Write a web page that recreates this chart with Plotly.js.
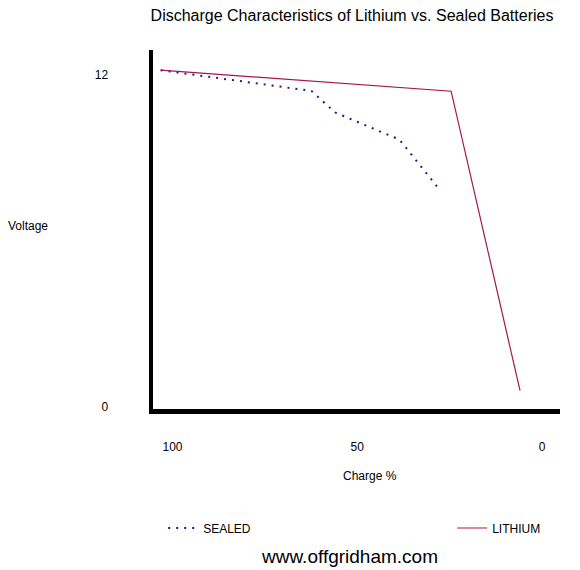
<!DOCTYPE html>
<html>
<head>
<meta charset="utf-8">
<script src="https://cdn.plot.ly/plotly-3.0.1.min.js"></script>
<style>html,body{margin:0;padding:0;background:#fff;}#chart{width:580px;height:570px;}</style>
</head>
<body>
<div id="chart"></div>
<script>
// Charge % (x) and voltage (y)
const sealedCharge = [103.2, 62.4, 56.0, 38.6, 27.8];
const sealedVoltage = [12.17, 11.42, 10.64, 9.66, 7.86];
const lithiumCharge = [103.2, 24.6, 5.95];
const lithiumVoltage = [12.17, 11.41, 0.58];
const xTickVals = [100, 50, 0];
const xTickText = ['100', '50', '0'];
const yTickVals = [0, 12];
const yTickText = ['0', '12'];

const FONT = 'Liberation Sans, Arial, Helvetica, sans-serif';

const traces = [
  {
    x: sealedCharge, y: sealedVoltage, name: 'SEALED', type: 'scatter', mode: 'lines',
    line: {color: '#1c1c8a', width: 2, dash: '2px,6px'}, legend: 'legend'
  },
  {
    x: lithiumCharge, y: lithiumVoltage, name: 'LITHIUM', type: 'scatter', mode: 'lines',
    line: {color: '#a3174f', width: 1.2}, legend: 'legend2'
  }
];

const layout = {
  width: 580, height: 570,
  margin: {l: 153, r: 20, t: 50, b: 161},
  paper_bgcolor: '#fff', plot_bgcolor: '#fff',
  font: {family: FONT, size: 12, color: '#000'},
  title: {text: 'Discharge Characteristics of Lithium vs. Sealed Batteries',
          font: {family: FONT, size: 16, color: '#000'},
          xref: 'container', x: 352 / 580, xanchor: 'center',
          yref: 'container', y: 1 - 15 / 570, yanchor: 'middle'},
  xaxis: {
    range: [105.27, -4.86], showgrid: false, zeroline: false,
    showline: true, linecolor: '#000', linewidth: 4.5,
    tickmode: 'array', tickvals: xTickVals, ticktext: xTickText,
    ticks: '', ticklabelstandoff: 23, tickfont: {size: 12}
  },
  yaxis: {
    range: [-0.083, 12.9], showgrid: false, zeroline: false,
    showline: true, linecolor: '#000', linewidth: 4.5,
    tickmode: 'array', tickvals: yTickVals, ticktext: yTickText,
    ticks: '', ticklabelstandoff: 38, tickfont: {size: 12}
  },
  showlegend: true,
  legend: {orientation: 'h', x: 0.025, xanchor: 'left', y: -0.3315, yanchor: 'middle',
           font: {size: 12}, bgcolor: 'rgba(0,0,0,0)'},
  legend2: {orientation: 'h', x: 0.735, xanchor: 'left', y: -0.3315, yanchor: 'middle',
            font: {size: 12}, bgcolor: 'rgba(0,0,0,0)'},
  annotations: [
    {text: 'Voltage', xref: 'paper', yref: 'paper', x: -0.307, y: 0.51, xanchor: 'center', yanchor: 'middle',
     showarrow: false, font: {size: 12}},
    {text: 'Charge %', xref: 'paper', yref: 'paper', x: 0.533, y: -0.187, xanchor: 'center', yanchor: 'middle',
     showarrow: false, font: {size: 12}},
    {text: 'www.offgridham.com', xref: 'paper', yref: 'paper', x: 0.484, y: -0.41, xanchor: 'center', yanchor: 'middle',
     showarrow: false, font: {size: 19}}
  ]
};

Plotly.newPlot('chart', traces, layout, {displayModeBar: false, staticPlot: true});
</script>
</body>
</html>
